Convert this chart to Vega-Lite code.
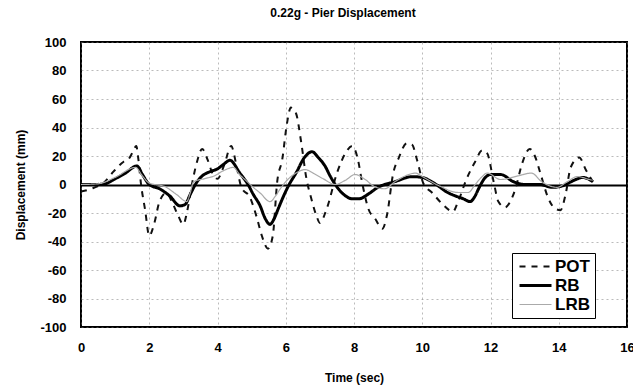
{
  "$schema": "https://vega.github.io/schema/vega-lite/v6.json",
  "autosize": {"type": "none"},
  "width": 546,
  "height": 285,
  "padding": {"left": 81, "top": 42, "right": 6, "bottom": 65},
  "background": "white",
  "config": {
    "font": "Liberation Sans",
    "view": {"stroke": "black", "strokeWidth": 2},
    "axis": {
      "labelFont": "Liberation Sans", "labelFontWeight": "bold", "labelFontSize": 13, "labelColor": "black",
      "titleFont": "Liberation Sans", "titleFontWeight": "bold", "titleFontSize": 12, "titleColor": "black",
      "domain": false, "ticks": false, "labelOverlap": false
    },
    "legend": {
      "fillColor": "white", "strokeColor": "black", "padding": 5,
      "symbolType": "M-0.6,0H2.6", "symbolSize": 400,
      "labelFont": "Liberation Sans", "labelFontWeight": "bold", "labelFontSize": 17, "labelColor": "black",
      "rowPadding": 1, "labelOffset": 21
    }
  },
  "title": {
    "text": "0.22g - Pier Displacement",
    "font": "Liberation Sans", "fontSize": 12, "fontWeight": "bold", "color": "black",
    "anchor": "middle", "dx": -11, "offset": 16
  },
  "data": {
    "values": [
      {"t": 0, "v": -5, "s": "POT"}, {"t": 0.3, "v": -3, "s": "POT"}, {"t": 0.7, "v": 2, "s": "POT"},
      {"t": 0.95, "v": 9, "s": "POT"}, {"t": 1.25, "v": 16, "s": "POT"}, {"t": 1.4, "v": 18, "s": "POT"},
      {"t": 1.52, "v": 23, "s": "POT"}, {"t": 1.62, "v": 27, "s": "POT"}, {"t": 1.68, "v": 18, "s": "POT"},
      {"t": 1.76, "v": 0, "s": "POT"}, {"t": 1.88, "v": -18, "s": "POT"}, {"t": 2.0, "v": -36, "s": "POT"},
      {"t": 2.15, "v": -27, "s": "POT"}, {"t": 2.3, "v": -12, "s": "POT"}, {"t": 2.5, "v": -6, "s": "POT"},
      {"t": 2.7, "v": -14, "s": "POT"}, {"t": 2.85, "v": -22, "s": "POT"}, {"t": 3.0, "v": -28, "s": "POT"},
      {"t": 3.1, "v": -20, "s": "POT"}, {"t": 3.25, "v": 0, "s": "POT"}, {"t": 3.4, "v": 16, "s": "POT"},
      {"t": 3.55, "v": 25, "s": "POT"}, {"t": 3.7, "v": 18, "s": "POT"}, {"t": 3.85, "v": 8, "s": "POT"},
      {"t": 4.0, "v": 4, "s": "POT"}, {"t": 4.2, "v": 14, "s": "POT"}, {"t": 4.4, "v": 27, "s": "POT"},
      {"t": 4.55, "v": 14, "s": "POT"}, {"t": 4.7, "v": -2, "s": "POT"}, {"t": 4.95, "v": -9, "s": "POT"},
      {"t": 5.15, "v": -23, "s": "POT"}, {"t": 5.3, "v": -36, "s": "POT"}, {"t": 5.48, "v": -45, "s": "POT"},
      {"t": 5.62, "v": -36, "s": "POT"}, {"t": 5.75, "v": 2, "s": "POT"}, {"t": 5.9, "v": 18, "s": "POT"},
      {"t": 6.03, "v": 42, "s": "POT"}, {"t": 6.15, "v": 54, "s": "POT"}, {"t": 6.3, "v": 50, "s": "POT"},
      {"t": 6.45, "v": 30, "s": "POT"}, {"t": 6.6, "v": 5, "s": "POT"}, {"t": 6.75, "v": -10, "s": "POT"},
      {"t": 6.9, "v": -22, "s": "POT"}, {"t": 7.0, "v": -27, "s": "POT"}, {"t": 7.2, "v": -17, "s": "POT"},
      {"t": 7.5, "v": 8, "s": "POT"}, {"t": 7.75, "v": 22, "s": "POT"}, {"t": 7.95, "v": 27, "s": "POT"},
      {"t": 8.1, "v": 19, "s": "POT"}, {"t": 8.25, "v": 0, "s": "POT"}, {"t": 8.42, "v": -17, "s": "POT"},
      {"t": 8.62, "v": -24, "s": "POT"}, {"t": 8.83, "v": -31, "s": "POT"}, {"t": 8.97, "v": -21, "s": "POT"},
      {"t": 9.15, "v": 8, "s": "POT"}, {"t": 9.3, "v": 18, "s": "POT"}, {"t": 9.55, "v": 29, "s": "POT"},
      {"t": 9.7, "v": 28, "s": "POT"}, {"t": 9.85, "v": 17, "s": "POT"}, {"t": 10.03, "v": 1, "s": "POT"},
      {"t": 10.3, "v": -6, "s": "POT"}, {"t": 10.6, "v": -14, "s": "POT"}, {"t": 10.9, "v": -19, "s": "POT"},
      {"t": 11.05, "v": -12, "s": "POT"}, {"t": 11.3, "v": 4, "s": "POT"}, {"t": 11.55, "v": 16, "s": "POT"},
      {"t": 11.76, "v": 24, "s": "POT"}, {"t": 11.9, "v": 22, "s": "POT"}, {"t": 12.1, "v": 1, "s": "POT"},
      {"t": 12.23, "v": -12, "s": "POT"}, {"t": 12.43, "v": -16, "s": "POT"}, {"t": 12.58, "v": -12, "s": "POT"},
      {"t": 12.73, "v": -3, "s": "POT"}, {"t": 12.93, "v": 15, "s": "POT"}, {"t": 13.15, "v": 25, "s": "POT"},
      {"t": 13.3, "v": 20, "s": "POT"}, {"t": 13.46, "v": 8, "s": "POT"}, {"t": 13.7, "v": -10, "s": "POT"},
      {"t": 13.9, "v": -17, "s": "POT"}, {"t": 14.05, "v": -18, "s": "POT"}, {"t": 14.2, "v": -7, "s": "POT"},
      {"t": 14.35, "v": 12, "s": "POT"}, {"t": 14.6, "v": 19, "s": "POT"}, {"t": 14.8, "v": 10, "s": "POT"},
      {"t": 15.0, "v": 2, "s": "POT"},

      {"t": 0, "v": 0, "s": "RB"}, {"t": 0.4, "v": 0, "s": "RB"}, {"t": 0.7, "v": 0.5, "s": "RB"},
      {"t": 1.0, "v": 4, "s": "RB"}, {"t": 1.3, "v": 8, "s": "RB"}, {"t": 1.64, "v": 13, "s": "RB"},
      {"t": 1.8, "v": 7, "s": "RB"}, {"t": 2.0, "v": 0, "s": "RB"}, {"t": 2.3, "v": -3, "s": "RB"},
      {"t": 2.6, "v": -8, "s": "RB"}, {"t": 2.9, "v": -15, "s": "RB"}, {"t": 3.05, "v": -14, "s": "RB"},
      {"t": 3.2, "v": -7, "s": "RB"}, {"t": 3.35, "v": 0, "s": "RB"}, {"t": 3.55, "v": 6, "s": "RB"},
      {"t": 3.78, "v": 9, "s": "RB"}, {"t": 4.0, "v": 11, "s": "RB"}, {"t": 4.17, "v": 14, "s": "RB"},
      {"t": 4.37, "v": 17, "s": "RB"}, {"t": 4.5, "v": 14, "s": "RB"}, {"t": 4.6, "v": 10, "s": "RB"},
      {"t": 4.75, "v": 5, "s": "RB"}, {"t": 4.87, "v": 1, "s": "RB"}, {"t": 5.05, "v": -7, "s": "RB"},
      {"t": 5.25, "v": -15, "s": "RB"}, {"t": 5.4, "v": -24, "s": "RB"}, {"t": 5.54, "v": -28, "s": "RB"},
      {"t": 5.66, "v": -24, "s": "RB"}, {"t": 5.78, "v": -17, "s": "RB"}, {"t": 5.92, "v": -9, "s": "RB"},
      {"t": 6.1, "v": 0, "s": "RB"}, {"t": 6.3, "v": 8, "s": "RB"}, {"t": 6.55, "v": 19, "s": "RB"},
      {"t": 6.77, "v": 23, "s": "RB"}, {"t": 6.95, "v": 19, "s": "RB"}, {"t": 7.15, "v": 13, "s": "RB"},
      {"t": 7.3, "v": 6, "s": "RB"}, {"t": 7.45, "v": 0, "s": "RB"}, {"t": 7.7, "v": -7, "s": "RB"},
      {"t": 7.95, "v": -10, "s": "RB"}, {"t": 8.15, "v": -10, "s": "RB"}, {"t": 8.4, "v": -7, "s": "RB"},
      {"t": 8.7, "v": -2, "s": "RB"}, {"t": 9.2, "v": 2, "s": "RB"}, {"t": 9.7, "v": 5.5, "s": "RB"},
      {"t": 10.0, "v": 5, "s": "RB"}, {"t": 10.2, "v": 3, "s": "RB"}, {"t": 10.47, "v": -1, "s": "RB"},
      {"t": 10.7, "v": -5, "s": "RB"}, {"t": 10.97, "v": -8, "s": "RB"}, {"t": 11.2, "v": -10, "s": "RB"},
      {"t": 11.4, "v": -12, "s": "RB"}, {"t": 11.55, "v": -8, "s": "RB"}, {"t": 11.65, "v": -3, "s": "RB"},
      {"t": 11.85, "v": 5, "s": "RB"}, {"t": 12.0, "v": 7, "s": "RB"}, {"t": 12.3, "v": 7, "s": "RB"},
      {"t": 12.67, "v": 2, "s": "RB"}, {"t": 13.0, "v": 0, "s": "RB"}, {"t": 13.46, "v": 0, "s": "RB"},
      {"t": 13.8, "v": -2, "s": "RB"}, {"t": 14.1, "v": -1, "s": "RB"}, {"t": 14.5, "v": 3.5, "s": "RB"},
      {"t": 14.7, "v": 5, "s": "RB"}, {"t": 15.0, "v": 2, "s": "RB"},

      {"t": 0, "v": 0, "s": "LRB"}, {"t": 0.5, "v": 0.5, "s": "LRB"}, {"t": 1.0, "v": 5, "s": "LRB"},
      {"t": 1.6, "v": 12, "s": "LRB"}, {"t": 1.8, "v": 6, "s": "LRB"}, {"t": 2.0, "v": 1, "s": "LRB"},
      {"t": 2.46, "v": -1.5, "s": "LRB"}, {"t": 2.8, "v": -7, "s": "LRB"}, {"t": 3.1, "v": -12, "s": "LRB"},
      {"t": 3.2, "v": -6, "s": "LRB"}, {"t": 3.3, "v": 2, "s": "LRB"}, {"t": 3.6, "v": 4, "s": "LRB"},
      {"t": 3.9, "v": 6, "s": "LRB"}, {"t": 4.2, "v": 10, "s": "LRB"}, {"t": 4.46, "v": 12, "s": "LRB"},
      {"t": 4.65, "v": 7, "s": "LRB"}, {"t": 4.87, "v": 2, "s": "LRB"}, {"t": 5.05, "v": -2, "s": "LRB"},
      {"t": 5.25, "v": -6, "s": "LRB"}, {"t": 5.54, "v": -12, "s": "LRB"}, {"t": 5.7, "v": -8, "s": "LRB"},
      {"t": 5.84, "v": -3, "s": "LRB"}, {"t": 6.04, "v": 3, "s": "LRB"}, {"t": 6.3, "v": 8, "s": "LRB"},
      {"t": 6.57, "v": 10.5, "s": "LRB"}, {"t": 6.8, "v": 8, "s": "LRB"}, {"t": 7.1, "v": 4, "s": "LRB"},
      {"t": 7.45, "v": 0, "s": "LRB"}, {"t": 7.75, "v": 3, "s": "LRB"}, {"t": 8.03, "v": 7, "s": "LRB"},
      {"t": 8.33, "v": 3.5, "s": "LRB"}, {"t": 8.6, "v": -1.5, "s": "LRB"}, {"t": 8.9, "v": -3, "s": "LRB"},
      {"t": 9.2, "v": 2, "s": "LRB"}, {"t": 9.5, "v": 6, "s": "LRB"}, {"t": 9.8, "v": 8, "s": "LRB"},
      {"t": 10.0, "v": 5.6, "s": "LRB"}, {"t": 10.5, "v": -1, "s": "LRB"}, {"t": 11.05, "v": -5.6, "s": "LRB"},
      {"t": 11.35, "v": -5.6, "s": "LRB"}, {"t": 11.55, "v": 0, "s": "LRB"}, {"t": 11.76, "v": 5.6, "s": "LRB"},
      {"t": 11.9, "v": 8, "s": "LRB"}, {"t": 12.3, "v": 3.5, "s": "LRB"}, {"t": 12.8, "v": 6, "s": "LRB"},
      {"t": 13.2, "v": 8, "s": "LRB"}, {"t": 13.5, "v": 2, "s": "LRB"}, {"t": 13.95, "v": -2, "s": "LRB"},
      {"t": 14.25, "v": 2, "s": "LRB"}, {"t": 14.55, "v": 5.6, "s": "LRB"}, {"t": 14.9, "v": 3.5, "s": "LRB"},
      {"t": 15.0, "v": 3, "s": "LRB"}
    ]
  },
  "mark": {"type": "line", "interpolate": "monotone", "clip": true},
  "encoding": {
    "x": {
      "field": "t", "type": "quantitative", "title": "Time (sec)",
      "scale": {"domain": [0, 16], "nice": false, "zero": false},
      "axis": {"values": [0, 2, 4, 6, 8, 10, 12, 14, 16], "labelPadding": 14, "titlePadding": 18, "labelFlush": false,
               "grid": true, "gridColor": "#777", "gridDash": [2, 3], "gridOpacity": 0.5, "gridWidth": 1}
    },
    "y": {
      "field": "v", "type": "quantitative", "title": "Displacement (mm)",
      "scale": {"domain": [-100, 100], "nice": false},
      "axis": {"values": [-100, -80, -60, -40, -20, 0, 20, 40, 60, 80, 100], "labelExpr": "toString(datum.value)",
               "labelOverlap": false, "labelPadding": 15, "titlePadding": 12, "grid": true,
               "gridColor": {"condition": {"test": "datum.value === 0", "value": "black"}, "value": "#777"},
               "gridDash": {"condition": {"test": "datum.value === 0", "value": []}, "value": [2, 3]},
               "gridOpacity": {"condition": {"test": "datum.value === 0", "value": 1}, "value": 0.5},
               "gridWidth": {"condition": {"test": "datum.value === 0", "value": 2}, "value": 1}}
    },
    "color": {
      "field": "s", "type": "nominal", "title": null,
      "scale": {"domain": ["POT", "RB", "LRB"], "range": ["#111111", "#000000", "#aaaaaa"]},
      "legend": {
        "orient": "none", "legendX": 431, "legendY": 211,
        "encode": {"symbols": {"update": {"strokeWidth": {"signal": "datum.value === 'RB' ? 3 : datum.value === 'POT' ? 2 : 1.2"}}}}
      }
    },
    "strokeDash": {
      "field": "s", "type": "nominal", "title": null,
      "scale": {"domain": ["POT", "RB", "LRB"], "range": [[6, 6], [1, 0], [1, 0]]},
      "legend": {
        "orient": "none", "legendX": 431, "legendY": 211,
        "encode": {"symbols": {"update": {"strokeWidth": {"signal": "datum.value === 'RB' ? 3 : datum.value === 'POT' ? 2 : 1.2"}}}}
      }
    },
    "strokeWidth": {
      "condition": [
        {"test": "datum.s === 'RB'", "value": 3},
        {"test": "datum.s === 'POT'", "value": 2}
      ],
      "value": 1.2
    }
  }
}
